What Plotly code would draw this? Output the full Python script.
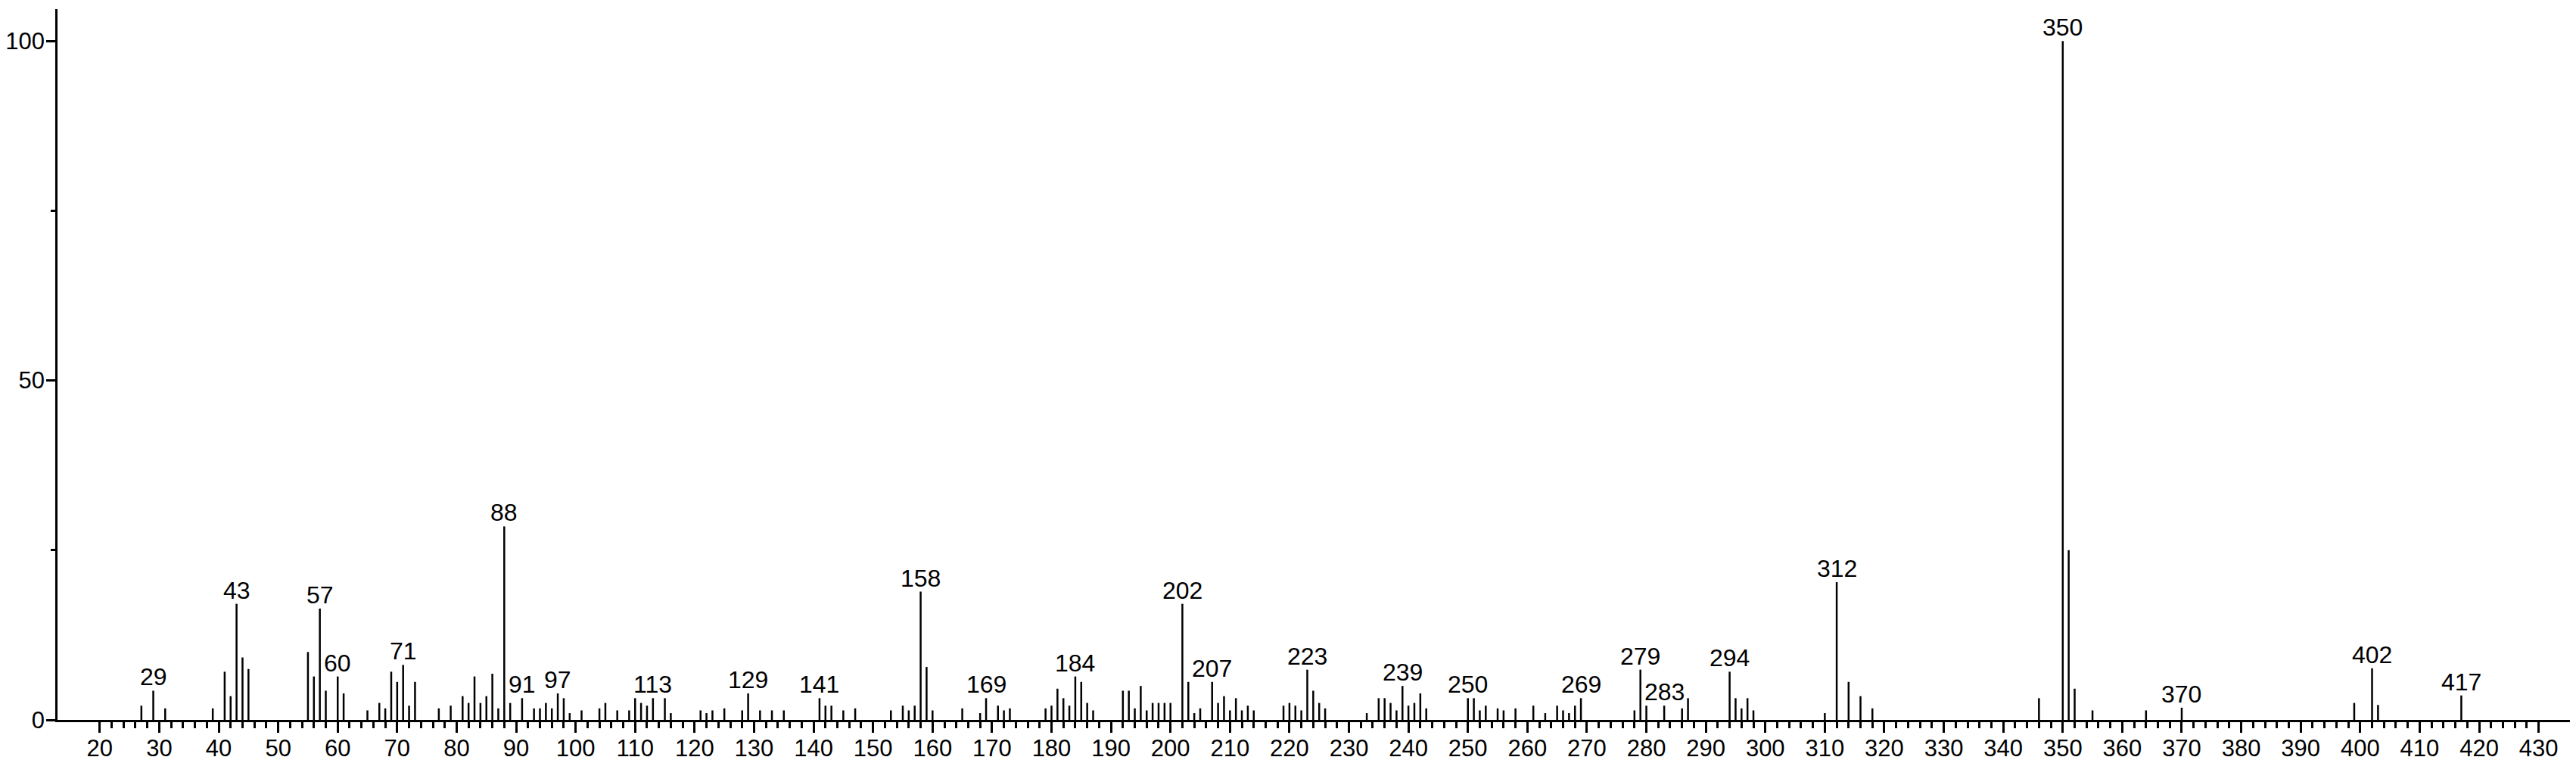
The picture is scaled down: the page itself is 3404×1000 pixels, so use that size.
import plotly.graph_objects as go

# m/z values and relative intensities (%)
mz = [27, 29, 31, 39, 41, 42, 43, 44, 45, 55, 56, 57, 58, 60, 61, 65, 67, 68, 69, 70,
      71, 72, 73, 77, 79, 81, 82, 83, 84, 85, 86, 87, 88, 89, 91, 93, 94, 95, 96, 97,
      98, 99, 101, 104, 105, 107, 109, 110, 111, 112, 113, 115, 116, 121, 122, 123, 125,
      128, 129, 131, 133, 135, 141, 142, 143, 145, 147, 153, 155, 156, 157, 158, 159,
      160, 165, 168, 169, 171, 172, 173, 179, 180, 181, 182, 183, 184, 185, 186, 187,
      192, 193, 194, 195, 196, 197, 198, 199, 200, 202, 203, 204, 205, 207, 208, 209,
      210, 211, 212, 213, 214, 219, 220, 221, 222, 223, 224, 225, 226, 233, 235, 236,
      237, 238, 239, 240, 241, 242, 243, 250, 251, 252, 253, 255, 256, 258, 261, 263,
      265, 266, 267, 268, 269, 278, 279, 280, 283, 286, 287, 294, 295, 296, 297, 298,
      310, 312, 314, 316, 318, 346, 350, 351, 352, 355, 364, 370, 399, 402, 403, 417]
intensity = [2.1, 4.3, 1.7, 1.7, 7.1, 3.5, 17.1, 9.2, 7.5, 10.0, 6.4, 16.4, 4.3, 6.4, 3.9,
             1.4, 2.5, 1.7, 7.1, 5.6, 8.1, 2.1, 5.6, 1.7, 2.1, 3.5, 2.5, 6.4, 2.5, 3.5,
             6.8, 1.7, 28.5, 2.5, 3.2, 1.7, 1.7, 2.5, 1.7, 3.9, 3.2, 1.0, 1.4, 1.7, 2.5,
             1.4, 1.4, 3.2, 2.5, 2.1, 3.2, 3.2, 1.0, 1.4, 1.0, 1.4, 1.7, 1.4, 3.9, 1.4,
             1.4, 1.4, 3.2, 2.1, 2.1, 1.4, 1.7, 1.4, 2.1, 1.4, 2.1, 18.9, 7.8, 1.4, 1.7,
             1.0, 3.2, 2.1, 1.4, 1.7, 1.7, 2.1, 4.6, 3.2, 2.1, 6.4, 5.6, 2.5, 1.4, 4.3,
             4.3, 1.7, 5.0, 1.4, 2.5, 2.5, 2.5, 2.5, 17.1, 5.6, 1.0, 1.7, 5.6, 2.5, 3.5,
             1.4, 3.2, 1.4, 2.1, 1.4, 2.1, 2.5, 2.1, 1.4, 7.4, 4.3, 2.5, 1.7, 1.0, 3.2,
             3.2, 2.5, 1.4, 5.0, 2.1, 2.5, 3.9, 1.7, 3.2, 3.2, 1.4, 2.1, 1.7, 1.4, 1.7,
             2.1, 1.0, 2.1, 1.4, 1.0, 2.1, 3.2, 1.4, 7.4, 2.1, 2.1, 1.7, 3.2, 7.1, 3.2,
             1.7, 3.2, 1.4, 1.0, 20.3, 5.6, 3.5, 1.7, 3.2, 100.0, 25.0, 4.6, 1.4, 1.4,
             1.8, 2.5, 7.6, 2.2, 3.6]

labeled_mz = [29, 43, 57, 60, 71, 88, 91, 97, 113, 129, 141, 158, 169, 184, 202, 207,
              223, 239, 250, 269, 279, 283, 294, 312, 350, 370, 402, 417]

x_major_ticks = list(range(20, 431, 10))
x_tick_labels = [str(v) for v in x_major_ticks]
x_minor_ticks = [v for v in range(22, 430, 2) if v % 10 != 0]
y_major_ticks = [0, 50, 100]
y_tick_labels = ["0", "50", "100"]
y_minor_ticks = [25, 75]

# stick spectrum as segments
xs, ys = [], []
for m, h in zip(mz, intensity):
    xs += [m, m, None]
    ys += [0, h, None]

fig = go.Figure()
fig.add_trace(go.Scatter(x=xs, y=ys, mode="lines",
                         line=dict(color="black", width=2.5),
                         hoverinfo="skip", showlegend=False))

lookup = dict(zip(mz, intensity))
font = dict(family="Liberation Sans, Arial, sans-serif", size=32, color="black")
tickfont = dict(family="Liberation Sans, Arial, sans-serif", size=31, color="black")
for m in labeled_mz:
    fig.add_annotation(x=m, y=lookup[m], text=str(m), showarrow=False,
                       yanchor="bottom", xanchor="center", yshift=-2, font=font)

fig.update_layout(
    width=3404, height=1000,
    margin=dict(l=68, r=0, t=4, b=57),
    paper_bgcolor="white", plot_bgcolor="white",
    font=font,
    xaxis=dict(range=[12.9, 437.3], showgrid=False, zeroline=False, automargin=False,
               showline=True, linecolor="black", linewidth=2.5,
               tickmode="array", tickvals=x_major_ticks, ticktext=x_tick_labels,
               ticks="outside", ticklen=14, tickwidth=2.5, tickcolor="black",
               tickfont=tickfont, ticklabelstandoff=-6,
               minor=dict(tickmode="array", tickvals=x_minor_ticks, ticks="outside",
                          ticklen=8, tickwidth=2.5, tickcolor="black", showgrid=False)),
    yaxis=dict(range=[0, 104.7], showgrid=False, zeroline=False, automargin=False,
               showline=True, linecolor="black", linewidth=2.5,
               tickmode="array", tickvals=y_major_ticks, ticktext=y_tick_labels,
               ticks="outside", ticklen=12, tickwidth=2.5, tickcolor="black",
               tickfont=tickfont, ticklabelstandoff=-4,
               minor=dict(tickmode="array", tickvals=y_minor_ticks, ticks="outside",
                          ticklen=6, tickwidth=2.5, tickcolor="black", showgrid=False)),
)

fig.write_html("out.html")
